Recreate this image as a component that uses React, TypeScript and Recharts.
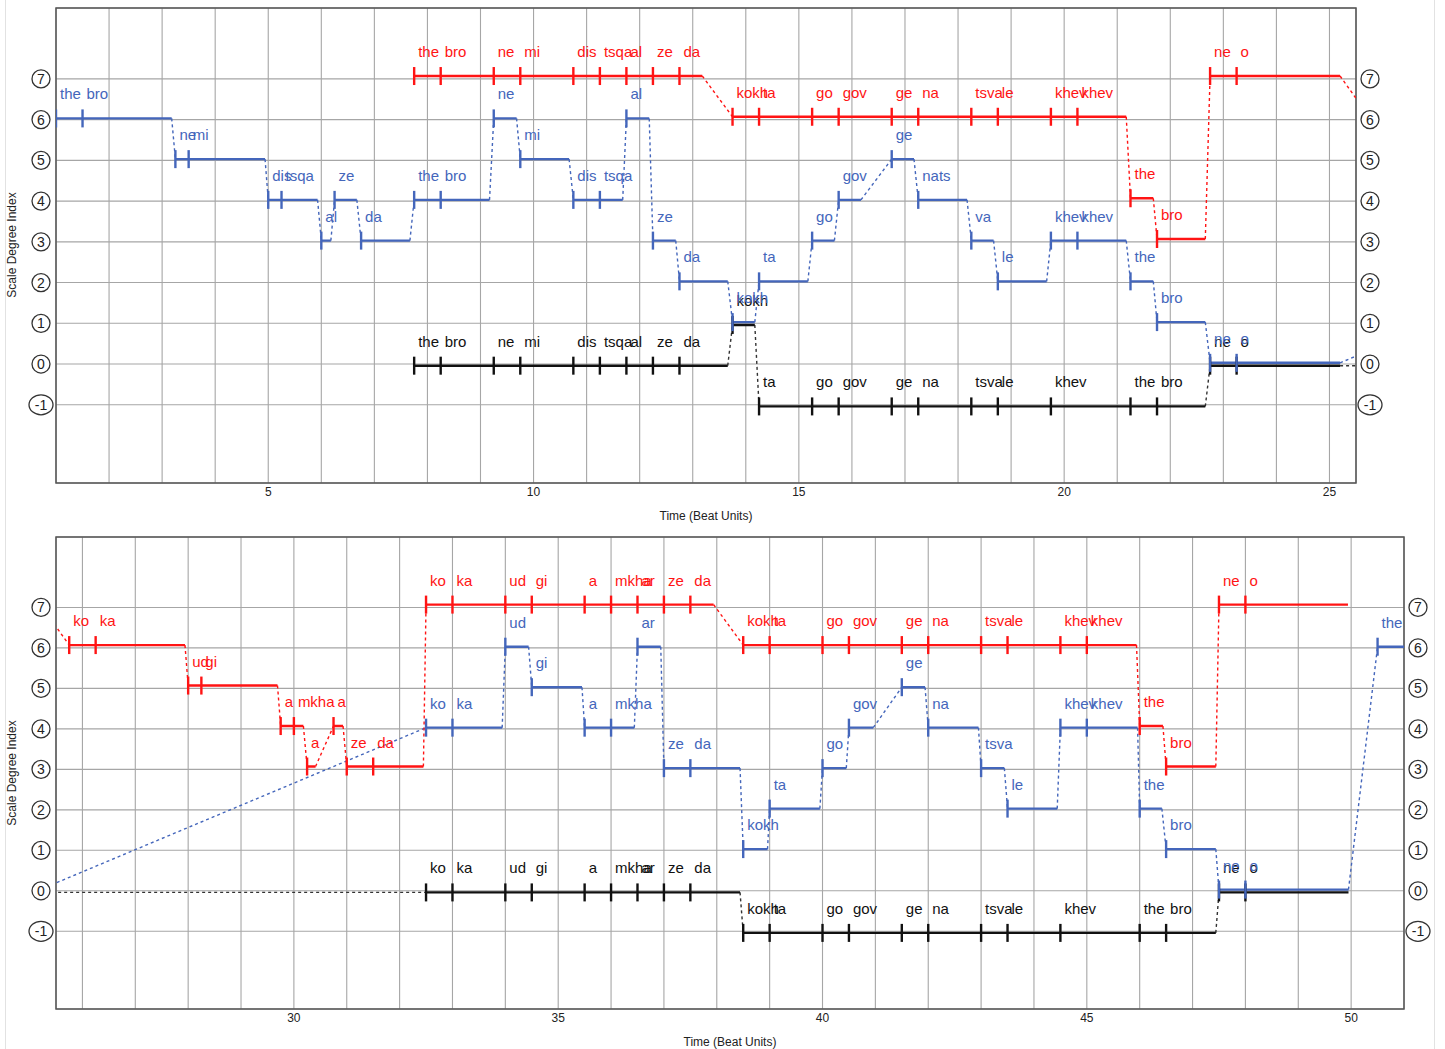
import React from 'react';
import { ComposedChart, Line, Scatter, XAxis, YAxis, CartesianGrid, ReferenceArea } from 'recharts';

const FONT = '"Liberation Sans", Arial, Helvetica, sans-serif';

// ---------- data ----------
const degreeTicks = [-1, 0, 1, 2, 3, 4, 5, 6, 7];
const topTimeTicks = [1, 2, 3, 4, 5, 6, 7, 8, 9, 10, 11, 12, 13, 14, 15, 16, 17, 18, 19, 20, 21, 22, 23, 24, 25];
const bottomTimeTicks = [26, 27, 28, 29, 30, 31, 32, 33, 34, 35, 36, 37, 38, 39, 40, 41, 42, 43, 44, 45, 46, 47, 48, 49, 50, 51];
const topDomain: [number, number] = [1, 25.5];
const bottomDomain: [number, number] = [25.5, 51];
const degreeDomain: [number, number] = [-2.92, 8.74];

const redStarts = [7.75, 8.25, 9.25, 9.75, 10.75, 11.25, 11.75, 12.25, 12.75, 13.75, 14.25, 15.25, 15.75, 16.75, 17.25, 18.25, 18.75, 19.75, 20.25, 21.25, 21.75, 22.75, 23.25, 25.75, 26.25, 28.0, 28.25, 29.75, 30.0, 30.25, 30.75, 31.0, 31.5, 32.5, 33.0, 34.0, 34.5, 35.5, 36.0, 36.5, 37.0, 37.5, 38.5, 39.0, 40.0, 40.5, 41.5, 42.0, 43.0, 43.5, 44.5, 45.0, 46.0, 46.5, 47.5, 48.0];
const redDegrees = [7, 7, 7, 7, 7, 7, 7, 7, 7, 6, 6, 6, 6, 6, 6, 6, 6, 6, 6, 4, 3, 7, 7, 6, 6, 5, 5, 4, 4, 3, 4, 3, 3, 7, 7, 7, 7, 7, 7, 7, 7, 7, 6, 6, 6, 6, 6, 6, 6, 6, 6, 6, 4, 3, 7, 7];
const redSyllables = ['the', 'bro', 'ne', 'mi', 'dis', 'tsqa', 'al', 'ze', 'da', 'kokh', 'ta', 'go', 'gov', 'ge', 'na', 'tsva', 'le', 'khev', 'khev', 'the', 'bro', 'ne', 'o', 'ko', 'ka', 'ud', 'gi', 'a', 'mkha', 'a', 'a', 'ze', 'da', 'ko', 'ka', 'ud', 'gi', 'a', 'mkha', 'ar', 'ze', 'da', 'kokh', 'ta', 'go', 'gov', 'ge', 'na', 'tsva', 'le', 'khev', 'khev', 'the', 'bro', 'ne', 'o'];
const redRunEnds = [13.18, 21.17, 21.68, 22.66, 25.2, 27.94, 29.69, 30.18, 30.41, 30.93, 32.45, 37.94, 45.94, 46.44, 47.44, 49.94];

const blueStarts = [1.0, 1.5, 3.25, 3.5, 5.0, 5.25, 6.0, 6.25, 6.75, 7.75, 8.25, 9.25, 9.75, 10.75, 11.25, 11.75, 12.25, 12.75, 13.75, 14.25, 15.25, 15.75, 16.75, 17.25, 18.25, 18.75, 19.75, 20.25, 21.25, 21.75, 22.75, 23.25, 32.5, 33.0, 34.0, 34.5, 35.5, 36.0, 36.5, 37.0, 37.5, 38.5, 39.0, 40.0, 40.5, 41.5, 42.0, 43.0, 43.5, 44.5, 45.0, 46.0, 46.5, 47.5, 48.0, 50.5];
const blueDegrees = [6, 6, 5, 5, 4, 4, 3, 4, 3, 4, 4, 6, 5, 4, 4, 6, 3, 2, 1, 2, 3, 4, 5, 4, 3, 2, 3, 3, 2, 1, 0, 0, 4, 4, 6, 5, 4, 4, 6, 3, 3, 1, 2, 3, 4, 5, 4, 3, 2, 4, 4, 2, 1, 0, 0, 6];
const blueSyllables = ['the', 'bro', 'ne', 'mi', 'dis', 'tsqa', 'al', 'ze', 'da', 'the', 'bro', 'ne', 'mi', 'dis', 'tsqa', 'al', 'ze', 'da', 'kokh', 'ta', 'go', 'gov', 'ge', 'nats', 'va', 'le', 'khev', 'khev', 'the', 'bro', 'ne', 'o', 'ko', 'ka', 'ud', 'gi', 'a', 'mkha', 'ar', 'ze', 'da', 'kokh', 'ta', 'go', 'gov', 'ge', 'na', 'tsva', 'le', 'khev', 'khev', 'the', 'bro', 'ne', 'o', 'the'];
const blueRunEnds = [3.18, 4.94, 5.93, 6.18, 6.67, 7.67, 9.17, 9.68, 10.67, 11.68, 12.18, 12.68, 13.66, 14.17, 15.17, 15.67, 16.17, 17.17, 18.17, 18.67, 19.67, 21.17, 21.68, 22.66, 25.2, 33.94, 34.44, 35.45, 36.44, 36.94, 38.44, 38.96, 39.95, 40.45, 40.96, 41.94, 42.95, 43.44, 44.44, 45.96, 46.42, 47.44, 49.95, 51.5];

const blackStarts = [7.75, 8.25, 9.25, 9.75, 10.75, 11.25, 11.75, 12.25, 12.75, 13.75, 14.25, 15.25, 15.75, 16.75, 17.25, 18.25, 18.75, 19.75, 21.25, 21.75, 22.75, 23.25, 32.5, 33.0, 34.0, 34.5, 35.5, 36.0, 36.5, 37.0, 37.5, 38.5, 39.0, 40.0, 40.5, 41.5, 42.0, 43.0, 43.5, 44.5, 46.0, 46.5, 47.5, 48.0];
const blackDegrees = [0, 0, 0, 0, 0, 0, 0, 0, 0, 1, -1, -1, -1, -1, -1, -1, -1, -1, -1, -1, 0, 0, 0, 0, 0, 0, 0, 0, 0, 0, 0, -1, -1, -1, -1, -1, -1, -1, -1, -1, -1, -1, 0, 0];
const blackSyllables = ['the', 'bro', 'ne', 'mi', 'dis', 'tsqa', 'al', 'ze', 'da', 'kokh', 'ta', 'go', 'gov', 'ge', 'na', 'tsva', 'le', 'khev', 'the', 'bro', 'ne', 'o', 'ko', 'ka', 'ud', 'gi', 'a', 'mkha', 'ar', 'ze', 'da', 'kokh', 'ta', 'go', 'gov', 'ge', 'na', 'tsva', 'le', 'khev', 'the', 'bro', 'ne', 'o'];
const blackRunEnds = [13.66, 14.17, 22.66, 25.2, 38.44, 47.44, 49.95];

// ---------- build ----------
type VoiceDef = {
  name: string; color: string; dashColor: string; offset: number;
  starts: number[]; degrees: number[]; syllables: string[]; runEnds: number[];
};

const voiceDefs: VoiceDef[] = [
  { name: 'black', color: '#111111', dashColor: '#333333', offset: -0.04, starts: blackStarts, degrees: blackDegrees, syllables: blackSyllables, runEnds: blackRunEnds },
  { name: 'blue', color: '#4466bb', dashColor: '#4466bb', offset: 0.03, starts: blueStarts, degrees: blueDegrees, syllables: blueSyllables, runEnds: blueRunEnds },
  { name: 'red', color: '#ff1414', dashColor: '#ff1414', offset: 0.07, starts: redStarts, degrees: redDegrees, syllables: redSyllables, runEnds: redRunEnds },
];

function buildVoice(v: VoiceDef) {
  const runs: { start: number; end: number; degree: number }[] = [];
  let k = 0;
  v.starts.forEach((s, i) => {
    if (runs.length && s >= v.runEnds[k]) k++;
    if (!runs[k]) runs[k] = { start: s, end: v.runEnds[k], degree: v.degrees[i] };
  });
  const solid: { x: number; y: number | null }[] = [];
  runs.forEach((r) => {
    solid.push({ x: r.start, y: r.degree + v.offset });
    solid.push({ x: r.end, y: r.degree + v.offset });
    solid.push({ x: r.end, y: null });
  });
  const dashed: { x: number; y: number | null }[] = [];
  for (let i = 0; i < runs.length - 1; i++) {
    dashed.push({ x: runs[i].end, y: runs[i].degree + v.offset });
    dashed.push({ x: runs[i + 1].start, y: runs[i + 1].degree + v.offset });
    dashed.push({ x: runs[i + 1].start, y: null });
  }
  const notes = v.starts.map((s, i) => ({ x: s, y: v.degrees[i] + v.offset, label: v.syllables[i] }));
  return { ...v, solid, dashed, notes };
}

const voices = voiceDefs.map(buildVoice);

// ---------- shapes ----------
const makeNoteShape = (color: string) => (props: any) => {
  const { cx, cy, payload } = props;
  if (cx == null || cy == null) return <g />;
  return (
    <g>
      <line x1={cx} x2={cx} y1={cy - 9} y2={cy + 9} stroke={color} strokeWidth={2.4} />
      <text x={cx + 4} y={cy - 19} fill={color} fontSize={15} fontFamily={FONT}>
        {payload?.label}
      </text>
    </g>
  );
};

const CircleTick = (props: any) => {
  const { x, y, payload, side } = props;
  const cx = side === 'left' ? x - 15 : x + 14;
  const v = payload.value;
  return (
    <g>
      {v < 0 ? (
        <ellipse cx={cx} cy={y} rx={12} ry={10} fill="#fff" stroke="#333" strokeWidth={1.3} />
      ) : (
        <circle cx={cx} cy={y} r={9} fill="#fff" stroke="#333" strokeWidth={1.3} />
      )}
      <text x={cx} y={y + 5} textAnchor="middle" fontSize={14} fontFamily={FONT} fill="#222">
        {v}
      </text>
    </g>
  );
};

function Panel({ domain, ticks, height, marginRight, marginBottom }: any) {
  return (
    <ComposedChart width={1445} height={height} margin={{ top: 8, right: marginRight, bottom: marginBottom, left: 30 }}>
      <CartesianGrid stroke="#a6a6a6" strokeWidth={1.1} />
      <XAxis
        dataKey="x"
        type="number"
        domain={domain}
        ticks={ticks}
        interval={0}
        allowDataOverflow
        tickFormatter={(v: number) => (v % 5 === 0 ? String(v) : '')}
        tickLine={false}
        axisLine={false}
        tickSize={2}
        tickMargin={2}
        height={40}
        tick={{ fontSize: 12, fill: '#222', fontFamily: FONT }}
      />
      <YAxis
        type="number"
        domain={degreeDomain}
        ticks={degreeTicks}
        interval={0}
        allowDataOverflow
        width={26}
        tickSize={0}
        tickMargin={0}
        tickLine={false}
        axisLine={false}
        tick={<CircleTick side="left" />}
      />
      <YAxis
        yAxisId="right"
        orientation="right"
        type="number"
        domain={degreeDomain}
        ticks={degreeTicks}
        interval={0}
        allowDataOverflow
        width={30}
        tickSize={0}
        tickMargin={0}
        tickLine={false}
        axisLine={false}
        tick={<CircleTick side="right" />}
      />
      <ReferenceArea x1={domain[0]} x2={domain[1]} y1={degreeDomain[0]} y2={degreeDomain[1]} fill="none" fillOpacity={0} stroke="#555" strokeWidth={1.5} />
      {voices.map((v) => (
        <Line
          key={v.name + '-dash'}
          data={v.dashed}
          dataKey="y"
          stroke={v.dashColor}
          strokeWidth={1.4}
          strokeDasharray="3 3"
          dot={false}
          activeDot={false}
          connectNulls={false}
          isAnimationActive={false}
          legendType="none"
        />
      ))}
      {voices.map((v) => (
        <Line
          key={v.name + '-solid'}
          data={v.solid}
          dataKey="y"
          stroke={v.color}
          strokeWidth={2.4}
          dot={false}
          activeDot={false}
          connectNulls={false}
          isAnimationActive={false}
          legendType="none"
        />
      ))}
      {voices.map((v) => (
        <Scatter
          key={v.name + '-notes'}
          data={v.notes.filter((n) => n.x >= domain[0] && n.x <= domain[1])}
          dataKey="y"
          fill={v.color}
          shape={makeNoteShape(v.color)}
          isAnimationActive={false}
          legendType="none"
        />
      ))}
    </ComposedChart>
  );
}

const axisTitle: React.CSSProperties = {
  position: 'absolute',
  fontSize: 12,
  fontFamily: FONT,
  color: '#222',
  whiteSpace: 'nowrap',
};

export default function App() {
  return (
    <div style={{ position: 'absolute', left: 0, top: 0, width: 1445, height: 1049, background: '#fff', overflow: 'hidden' }}>
      <div style={{ position: 'absolute', left: 5, top: 0, width: 1428, height: 1049, borderLeft: '1px solid #e2e2e2', borderRight: '1px solid #e2e2e2' }} />
      <div style={{ position: 'absolute', left: 0, top: 0 }}>
        <Panel domain={topDomain} ticks={topTimeTicks} height={530} marginRight={59} marginBottom={7} />
      </div>
      <div style={{ position: 'absolute', left: 0, top: 529 }}>
        <Panel domain={bottomDomain} ticks={bottomTimeTicks} height={520} marginRight={11} marginBottom={0} />
      </div>
      <div style={{ ...axisTitle, left: 12, top: 245, transform: 'translate(-50%, -50%) rotate(-90deg)' }}>Scale Degree Index</div>
      <div style={{ ...axisTitle, left: 12, top: 773, transform: 'translate(-50%, -50%) rotate(-90deg)' }}>Scale Degree Index</div>
      <div style={{ ...axisTitle, left: 706, top: 516, transform: 'translate(-50%, -50%)' }}>Time (Beat Units)</div>
      <div style={{ ...axisTitle, left: 730, top: 1042, transform: 'translate(-50%, -50%)' }}>Time (Beat Units)</div>
    </div>
  );
}
